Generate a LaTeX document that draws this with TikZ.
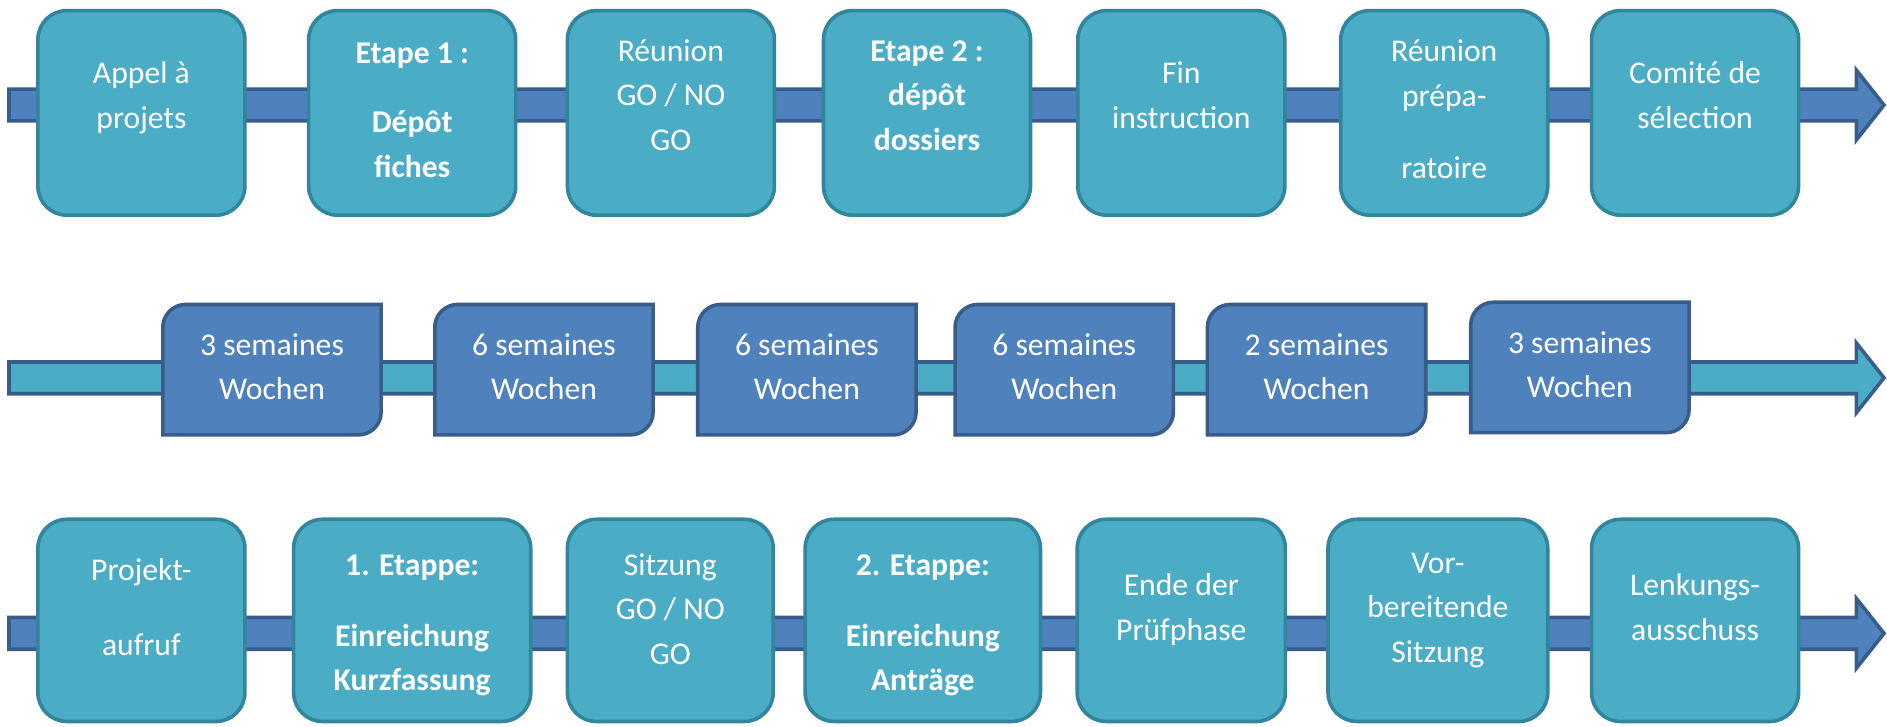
\documentclass[tikz,border=0pt]{standalone}
\usepackage{fontspec}
\setmainfont{Carlito}
\usetikzlibrary{calc}
\definecolor{teal1}{HTML}{4BACC6}
\definecolor{tealb}{HTML}{31859C}
\definecolor{blue1}{HTML}{4F81BD}
\definecolor{blueb}{HTML}{385D8A}
\newcommand\myband[3]{%
  \draw[#1] ($(#2)+(0,-13.2)$) -- ($(#3)+(-23,-13.2)$) -- ($(#3)+(-23,-29)$) -- (#3)
    -- ($(#3)+(-23,29)$) -- ($(#3)+(-23,13.2)$) -- ($(#2)+(0,13.2)$) -- cycle;}
\newcommand\weekshape[1]{%
  \draw[wkline] (#1.south west) -- ([yshift=-19bp]#1.north west)
    arc[start angle=180,end angle=90,radius=19bp] -- (#1.north east)
    -- ([yshift=19bp]#1.south east)
    arc[start angle=0,end angle=-90,radius=19bp] -- cycle;}
\begin{document}
\begin{tikzpicture}[x=1bp,y=-1bp,
  stepbox/.style={draw=tealb, fill=teal1, line width=3bp, rounded corners=24bp, inner sep=0pt},
  rowa/.style={stepbox, minimum height=170bp},
  rowc/.style={stepbox, minimum height=168bp},
  wkbox/.style={minimum width=181bp, minimum height=108bp, inner sep=0pt},
  wkline/.style={draw=blueb, fill=blue1, line width=3bp},
  txt/.style={text=white, align=center, inner sep=0pt,
    font=\fontsize{26.3bp}{37bp}\selectfont,
    execute at begin node=\strut, execute at end node=\strut},
  txtb/.style={txt, font=\fontsize{26.3bp}{37bp}\selectfont\bfseries},
  bandA/.style={draw=blueb, fill=blue1, line width=3bp},
  bandB/.style={draw=blueb, fill=teal1, line width=3bp}]
\fill[white] (0,0) rectangle (1568,604);
\useasboundingbox (0,0) rectangle (1568,604);
% bands
\coordinate (s1) at (7.5,87.3);  \coordinate (e1) at (1565.5,87.3);
\coordinate (s2) at (7.5,314);   \coordinate (e2) at (1565.5,314);
\coordinate (s3) at (7.5,526.3); \coordinate (e3) at (1565.5,526.3);
\myband{bandA}{s1}{e1}
\myband{bandB}{s2}{e2}
\myband{bandA}{s3}{e3}
% row 1
\node[rowa, minimum width=172bp] (a1) at (117.5,93.8) {};
\node[rowa, minimum width=172bp] (a2) at (342.5,93.8) {};
\node[rowa, minimum width=172bp] (a3) at (557.5,93.8) {};
\node[rowa, minimum width=172bp] (a4) at (770.3,93.8) {};
\node[rowa, minimum width=172bp] (a5) at (981.6,93.8) {};
\node[rowa, minimum width=172bp] (a6) at (1200.1,93.8) {};
\node[rowa, minimum width=172bp] (a7) at (1408.5,93.8) {};
\node[txt]  (a1t) at (a1|-0,84.7) {Appel à\\projets};
\node[txtb] (a2t) at (a2|-0,97) {Etape 1 :\\[21bp]Dépôt\\fiches};
\node[txt]  (a3t) at (a3|-0,84.5) {Réunion\\GO / NO\\GO};
\node[txtb] (a4t) at (a4|-0,85) {Etape 2 :\\dépôt\\dossiers};
\node[txt]  (a5t) at (a5|-0,84.7) {Fin\\instruction};
\node[txt]  (a6t) at (a6|-0,96.5) {Réunion\\prépa-\\[23bp]ratoire};
\node[txt]  (a7t) at (a7|-0,84.7) {Comité de\\sélection};
% row 2
\node[wkbox] (w1) at (226,307.2) {};
\node[wkbox] (w2) at (452,307.2) {};
\node[wkbox] (w3) at (670.5,307.2) {};
\node[wkbox] (w4) at (884.3,307.2) {};
\node[wkbox] (w5) at (1094,307.2) {};
\node[wkbox] (w6) at (1312.8,305.3) {};
\weekshape{w1}\weekshape{w2}\weekshape{w3}\weekshape{w4}\weekshape{w5}\weekshape{w6}
\node[txt] (w1t) at (w1|-0,310.3) {3 semaines\\Wochen};
\node[txt] (w2t) at (w2|-0,310.3) {6 semaines\\Wochen};
\node[txt] (w3t) at (w3|-0,310.3) {6 semaines\\Wochen};
\node[txt] (w4t) at (w4|-0,310.3) {6 semaines\\Wochen};
\node[txt] (w5t) at (w5|-0,310.3) {2 semaines\\Wochen};
\node[txt] (w6t) at (w6|-0,308.6) {3 semaines\\Wochen};
% row 3
\node[rowc, minimum width=172bp]   (c1) at (117.5,515.5) {};
\node[rowc, minimum width=197bp]   (c2) at (342.5,515.5) {};
\node[rowc, minimum width=171bp]   (c3) at (557,515.5) {};
\node[rowc, minimum width=195.5bp] (c4) at (766.8,515.5) {};
\node[rowc, minimum width=173bp]   (c5) at (981.6,515.5) {};
\node[rowc, minimum width=182.6bp] (c6) at (1194.8,515.5) {};
\node[rowc, minimum width=172bp]   (c7) at (1408.5,515.5) {};
\node[txt]  (c1t) at (c1|-0,509.9) {Projekt-\\[25bp]aufruf};
\node[txtb] (c2t) at (c2|-0,523) {1. Etappe:\\[22bp]Einreichung\\Kurzfassung};
\node[txt]  (c3t) at (c3|-0,511.3) {Sitzung\\GO / NO\\GO};
\node[txtb] (c4t) at (c4|-0,523) {2. Etappe:\\[22bp]Einreichung\\Anträge};
\node[txt]  (c5t) at (c5|-0,509.8) {Ende der\\Prüfphase};
\node[txt]  (c6t) at (c6|-0,510.5) {Vor-\\bereitende\\Sitzung};
\node[txt]  (c7t) at (c7|-0,509.8) {Lenkungs-\\ausschuss};
\end{tikzpicture}
\end{document}
